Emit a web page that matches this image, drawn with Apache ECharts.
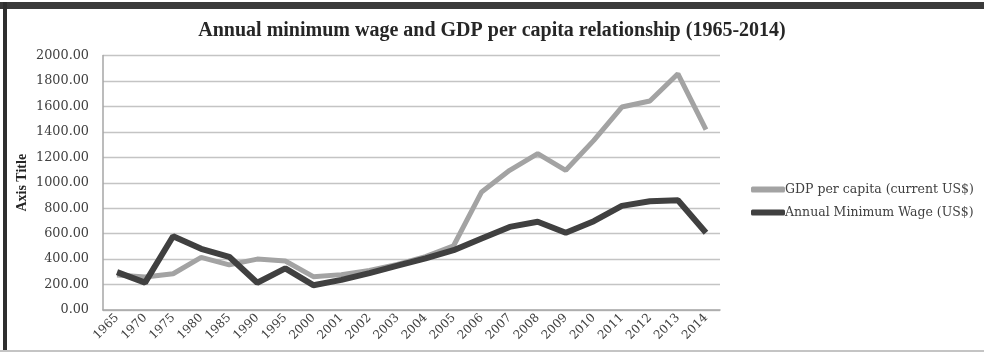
<!DOCTYPE html>
<html>
<head>
<meta charset="utf-8">
<script src="https://cdn.jsdelivr.net/npm/echarts@6/dist/echarts.min.js"></script>
<style>
  html, body { margin: 0; padding: 0; background: #fff; }
  #chart { width: 984px; height: 352px; }
</style>
</head>
<body>
<div id="chart"></div>
<script>
// Years on the category axis
const years = ['1965', '1970', '1975', '1980', '1985', '1990', '1995', '2000',
  '2001', '2002', '2003', '2004', '2005', '2006', '2007', '2008', '2009',
  '2010', '2011', '2012', '2013', '2014'];

// GDP per capita (current US$)
const gdpPerCapita = [275, 260, 285, 413, 355, 400, 385, 262,
  278, 310, 358, 420, 505, 928, 1098, 1229, 1098,
  1333, 1595, 1642, 1856, 1417];

// Annual minimum wage (US$)
const minWage = [298, 215, 580, 481, 418, 214, 327, 195,
  237, 290, 348, 405, 470, 562, 653, 693, 607,
  698, 818, 855, 863, 607];

const seriesNames = ['GDP per capita (current US$)', 'Annual Minimum Wage (US$)'];

const serif = '"DejaVu Serif", "Liberation Serif", serif';

const chart = echarts.init(document.getElementById('chart'));
chart.setOption({
  animation: false,
  backgroundColor: '#ffffff',
  title: {
    text: 'Annual minimum wage and GDP per capita relationship (1965-2014)',
    left: 'center',
    top: 16,
    textStyle: { fontFamily: '"Liberation Serif", serif', fontWeight: 'bold', fontSize: 20, color: '#262626' }
  },
  legend: {
    orient: 'vertical',
    left: 746,
    top: 178,
    itemGap: 10,
    itemWidth: 34,
    itemHeight: 6,
    icon: 'roundRect',
    textStyle: { fontFamily: serif, fontSize: 12.5, color: '#404040', padding: [0, 0, 0, -5] },
    data: seriesNames
  },
  grid: { left: 103, right: 264, top: 55.5, bottom: 42 },
  xAxis: {
    type: 'category',
    data: years,
    boundaryGap: true,
    axisLine: { lineStyle: { color: '#a6a6a6', width: 1.5 } },
    axisTick: { show: false },
    axisLabel: { rotate: 45, margin: 6, fontFamily: serif, fontSize: 12, color: '#404040', interval: 0 }
  },
  yAxis: {
    type: 'value',
    min: 0,
    max: 2000,
    interval: 200,
    name: 'Axis Title',
    nameLocation: 'middle',
    nameGap: 74,
    nameMoveOverlap: false,
    nameTextStyle: { fontFamily: '"Liberation Serif", serif', fontWeight: 'bold', fontSize: 14, color: '#262626' },
    axisLine: { show: true, lineStyle: { color: '#a6a6a6', width: 1.5 } },
    axisTick: { show: false },
    splitLine: { lineStyle: { color: '#c4c4c4', width: 1.3 } },
    axisLabel: {
      margin: 14,
      fontFamily: serif,
      fontSize: 12.8,
      color: '#404040',
      formatter: v => v.toFixed(2)
    }
  },
  series: [
    {
      name: seriesNames[0],
      type: 'line',
      data: gdpPerCapita,
      showSymbol: false,
      symbol: 'none',
      color: '#a3a3a3',
      lineStyle: { color: '#a3a3a3', width: 5 },
      z: 2
    },
    {
      name: seriesNames[1],
      type: 'line',
      data: minWage,
      showSymbol: false,
      symbol: 'none',
      color: '#404040',
      lineStyle: { color: '#404040', width: 6 },
      z: 3
    }
  ],
  // Frame around the figure
  graphic: [
    { type: 'rect', shape: { x: 0, y: 2, width: 984, height: 7 }, style: { fill: '#3a3a3a' }, z: 10 },
    { type: 'rect', shape: { x: 3, y: 2, width: 4, height: 350 }, style: { fill: '#2e2e2e' }, z: 10 },
    { type: 'rect', shape: { x: 0, y: 350, width: 984, height: 2 }, style: { fill: '#c4c4c4' }, z: 10 }
  ]
});
</script>
</body>
</html>
